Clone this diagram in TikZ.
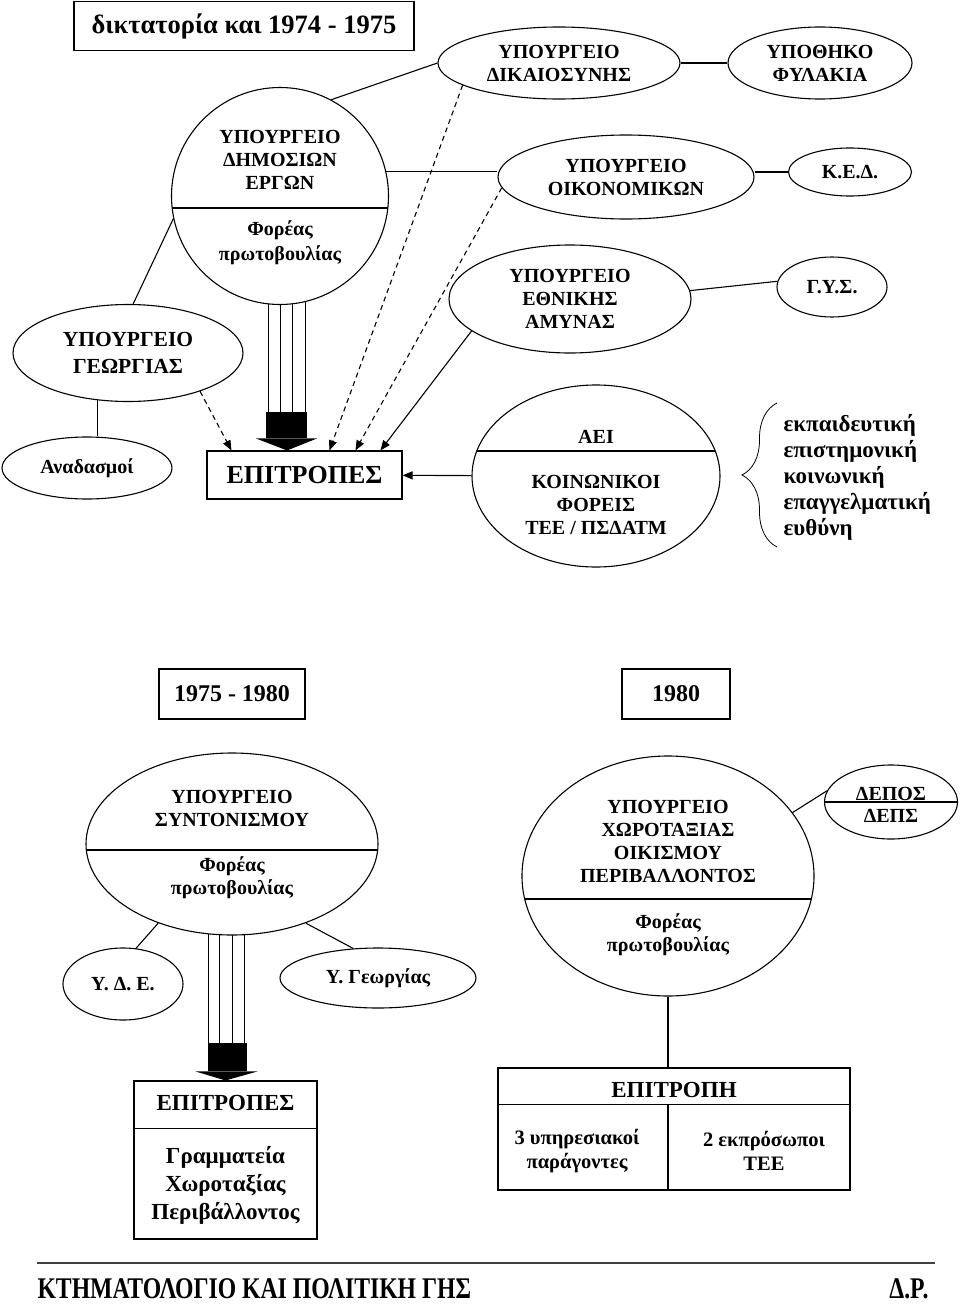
\documentclass[tikz,border=0pt]{standalone}
\usepackage{fontspec}
\usepackage{graphicx}
\setmainfont{Liberation Serif}
\usetikzlibrary{positioning,shapes,arrows.meta,calc,backgrounds,decorations.pathreplacing}

\begin{document}
\begin{tikzpicture}
  [x=1pt,y=-1pt,line width=1.1pt,
   every node/.style={font=\bfseries\fontsize{20}{23}\selectfont, align=center, inner sep=0pt},
   ell/.style={draw, ellipse, fill=white},
   rbox/.style={draw, rectangle, fill=white},
   divline/.style={path picture={\draw ([yshift=#1]path picture bounding box.west) -- ([yshift=#1]path picture bounding box.east);}},
   dashlink/.style={dash pattern=on 5pt off 4pt, -{Triangle[length=10pt,width=8pt]}},
   solidlink/.style={-{Triangle[length=10pt,width=8pt]}}]

  \useasboundingbox (0,0) rectangle (960,1306);

  % dictatorship period
  \node[rbox, minimum width=340pt, minimum height=49pt, font=\bfseries\fontsize{26.5}{30}\selectfont] (title) at (244,26) {δικτατορία και 1974 - 1975};

  \node[ell, minimum width=242pt, minimum height=72pt] (dik) at (559,63) {ΥΠΟΥΡΓΕΙΟ\\ΔΙΚΑΙΟΣΥΝΗΣ};
  \node[ell, minimum width=184pt, minimum height=72pt] (upo) at (820,63) {ΥΠΟΘΗΚΟ\\ΦΥΛΑΚΙΑ};
  \node[ell, minimum width=256pt, minimum height=84pt] (oik) at (626,177) {ΥΠΟΥΡΓΕΙΟ\\ΟΙΚΟΝΟΜΙΚΩΝ};
  \node[ell, minimum width=123pt, minimum height=48pt] (ked) at (850,172) {Κ.Ε.Δ.};
  \node[ell, minimum width=242pt, minimum height=108pt] (ethn) at (570,299) {ΥΠΟΥΡΓΕΙΟ\\ΕΘΝΙΚΗΣ\\ΑΜΥΝΑΣ};
  \node[ell, minimum width=110pt, minimum height=60pt] (gys) at (832,287) {Γ.Υ.Σ.};

  \node[ell, minimum width=217pt, minimum height=217pt, divline=-12pt] (dhm) at (280,196) {};
  \node (dhmname) at (280,160) {ΥΠΟΥΡΓΕΙΟ\\ΔΗΜΟΣΙΩΝ\\ΕΡΓΩΝ};
  \node[font=\bfseries\fontsize{20}{25}\selectfont] (dhmrole) at (280,243) {Φορέας\\πρωτοβουλίας};

  \node[ell, minimum width=230pt, minimum height=97pt, font=\bfseries\fontsize{21.5}{27}\selectfont] (geo) at (128,353) {ΥΠΟΥΡΓΕΙΟ\\ΓΕΩΡΓΙΑΣ};
  \node[ell, minimum width=170pt, minimum height=62pt] (anad) at (87,468) {Αναδασμοί};
  \node[rbox, minimum width=195pt, minimum height=48pt, font=\bfseries\fontsize{26}{30}\selectfont] (epi1) at (304.5,475) {ΕΠΙΤΡΟΠΕΣ};

  \node[ell, minimum width=248pt, minimum height=182pt, divline=25pt] (aei) at (596,476) {};
  \node (aeiname) at (596,437) {ΑΕΙ};
  \node (aeirest) at (596,505) {ΚΟΙΝΩΝΙΚΟΙ\\ΦΟΡΕΙΣ\\ΤΕΕ / ΠΣΔΑΤΜ};
  \node[anchor=west, align=left, font=\bfseries\fontsize{23}{26}\selectfont] (duty) at (783,477) {εκπαιδευτική\\επιστημονική\\κοινωνική\\επαγγελματική\\ευθύνη};
  \draw[line width=0.8pt, decorate, decoration={brace, amplitude=35pt}] ($(duty.west)+(-6,70)$) -- ($(duty.west)+(-6,-74)$);

  \path (dik) edge (upo)
    (dhm.62) edge (dik.west)
    (dhm.13) edge (dhm.13 -| oik.west)
    (ked.west -| oik.east) edge (ked.west)
    (ethn.4) edge (gys.174)
    (dhm.192) edge (geo.84)
    (geo.237) edge (geo.237 |- anad.north);

  \path (geo.-28) edge[dashlink] ([xshift=25pt]epi1.north west)
    (dik.-167) edge[dashlink] ([xshift=123pt]epi1.north west)
    (oik.185) edge[dashlink] ([xshift=149pt]epi1.north west)
    (ethn.198) edge[solidlink] ([xshift=174pt]epi1.north west)
    (aei) edge[solidlink] (epi1);

  % fat arrow into the committees
  \coordinate (tipA) at ([xshift=-17.5pt]epi1.north);
  \begin{scope}[on background layer]
    \foreach \dx in {-19,-7,5,18}
      \draw ($(tipA |- dhm.center)+(\dx,0)$) -- ($(tipA)+(\dx,-38)$);
  \end{scope}
  \fill ($(tipA)+(-21,-38)$) rectangle ($(tipA)+(20,-12)$);
  \fill ($(tipA)+(-31,-12)$) -- ($(tipA)+(30,-12)$) -- (tipA) -- cycle;

  % later periods
  \node[rbox, minimum width=146pt, minimum height=50pt, font=\bfseries\fontsize{24}{28}\selectfont] (yr1) at (232,694) {1975 - 1980};
  \node[rbox, minimum width=108pt, minimum height=50pt, font=\bfseries\fontsize{24}{28}\selectfont] (yr2) at (676,694) {1980};

  \node[ell, minimum width=292pt, minimum height=182pt, divline=-6pt] (syn) at (232,844) {};
  \node (synname) at (232,808) {ΥΠΟΥΡΓΕΙΟ\\ΣΥΝΤΟΝΙΣΜΟΥ};
  \node (synrole) at (232,878) {Φορέας\\πρωτοβουλίας};
  \node[ell, minimum width=120pt, minimum height=72pt] (yde) at (123,984) {Υ. Δ. Ε.};
  \node[ell, minimum width=196pt, minimum height=60pt] (ygeo) at (378,978) {Υ. Γεωργίας};

  \node[ell, minimum width=292pt, minimum height=240pt, divline=-23pt] (xor) at (668,876) {};
  \node (xorname) at (668,841) {ΥΠΟΥΡΓΕΙΟ\\ΧΩΡΟΤΑΞΙΑΣ\\ΟΙΚΙΣΜΟΥ\\ΠΕΡΙΒΑΛΛΟΝΤΟΣ};
  \node (xorrole) at (668,935) {Φορέας\\πρωτοβουλίας};
  \node[ell, minimum width=133pt, minimum height=74pt, divline=0pt] (depos) at (891,802) {};
  \node (deposname) at (891,794) {ΔΕΠΟΣ};
  \node (deposalt) at (891,816) {ΔΕΠΣ};

  \node[rbox, minimum width=183pt, minimum height=158pt] (epi2) at (225.5,1160) {};
  \draw ($(epi2.north west)+(0,48)$) -- ($(epi2.north east)+(0,48)$);
  \node[font=\bfseries\fontsize{23}{28}\selectfont] (epi2name) at (225.5,1103) {ΕΠΙΤΡΟΠΕΣ};
  \node[font=\bfseries\fontsize{23}{28}\selectfont] (epi2rest) at (225.5,1185) {Γραμματεία\\Χωροταξίας\\Περιβάλλοντος};

  \node[rbox, minimum width=352pt, minimum height=122pt] (epitropi) at (674,1129) {};
  \coordinate (epdiv) at ($(epitropi.north west)+(0,37)$);
  \draw (epdiv) -- (epdiv -| epitropi.east);
  \draw (xor.south |- epdiv) -- (xor.south |- epitropi.south);
  \node[font=\bfseries\fontsize{23}{28}\selectfont] (epitropiname) at (674,1090) {ΕΠΙΤΡΟΠΗ};
  \node[font=\bfseries\fontsize{20.5}{24}\selectfont] (members) at (577,1151) {3 υπηρεσιακοί\\παράγοντες};
  \node[font=\bfseries\fontsize{20.5}{24}\selectfont] (tee) at (764,1151) {2 εκπρόσωποι\\ΤΕΕ};

  \path (syn.227) edge (yde.70)
    (syn.-47) edge (ygeo.130)
    (xor.27) edge (depos.170)
    (xor.south) edge (xor.south |- epitropi.north);

  % fat arrow into the secretariat
  \coordinate (tipB) at (epi2.north);
  \begin{scope}[on background layer]
    \foreach \dx in {-17,-6,7,19}
      \draw ($(tipB |- syn.center)+(\dx,0)$) -- ($(tipB)+(\dx,-37)$);
  \end{scope}
  \fill ($(tipB)+(-18,-37)$) rectangle ($(tipB)+(21,-9)$);
  \fill ($(tipB)+(-30,-9)$) -- ($(tipB)+(32,-9)$) -- (tipB) -- cycle;

  % footer
  \draw[line width=2pt, black!75] (37,1263) -- (935,1263);
  \node[anchor=west, font=\bfseries\fontsize{30}{34}\selectfont] (footer) at (37,1289) {\scalebox{0.79}[1]{ΚΤΗΜΑΤΟΛΟΓΙΟ ΚΑΙ ΠΟΛΙΤΙΚΗ ΓΗΣ}};
  \node[anchor=east, font=\bfseries\fontsize{30}{34}\selectfont] (initials) at (929,1289) {\scalebox{0.79}[1]{Δ.Ρ.}};
\end{tikzpicture}
\end{document}
